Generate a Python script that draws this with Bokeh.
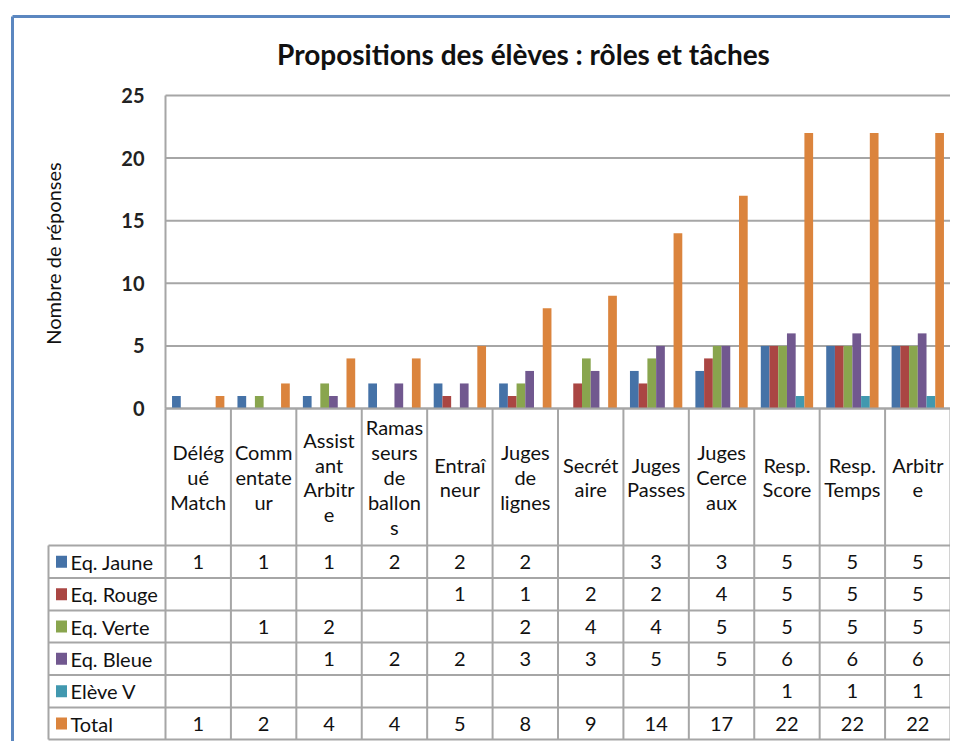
import math
from bokeh.plotting import figure
from bokeh.models import Range1d, LinearAxis, FixedTicker, Label, ColumnDataSource
from bokeh.core.properties import value
from bokeh.transform import dodge
from bokeh.embed import file_html
from bokeh.resources import INLINE

# ---------------- data ----------------
categories = ["Délég\nué\nMatch", "Comm\nentate\nur", "Assist\nant\nArbitr\ne",
              "Ramas\nseurs\nde\nballon\ns", "Entraî\nneur", "Juges\nde\nlignes",
              "Secrét\naire", "Juges\nPasses", "Juges\nCerce\naux",
              "Resp.\nScore", "Resp.\nTemps", "Arbitr\ne"]
series_names = ["Eq. Jaune", "Eq. Rouge", "Eq. Verte", "Eq. Bleue", "Elève V", "Total"]
eq_jaune = [1, 1, 1, 2, 2, 2, None, 3, 3, 5, 5, 5]
eq_rouge = [None, None, None, None, 1, 1, 2, 2, 4, 5, 5, 5]
eq_verte = [None, 1, 2, None, None, 2, 4, 4, 5, 5, 5, 5]
eq_bleue = [None, None, 1, 2, 2, 3, 3, 5, 5, 6, 6, 6]
eleve_v = [None, None, None, None, None, None, None, None, None, 1, 1, 1]
total = [1, 2, 4, 4, 5, 8, 9, 14, 17, 22, 22, 22]
series_values = [eq_jaune, eq_rouge, eq_verte, eq_bleue, eleve_v, total]
y_ticks = [0, 5, 10, 15, 20, 25]
title_text = "Propositions des élèves : rôles et tâches"
y_label = "Nombre de réponses"

# ---------------- style / layout ----------------
colors = ["#4572A7", "#AA4643", "#89A54E", "#71588F", "#4198AF", "#DB843D"]
GRID = "#a6a6a6"
FONT = "Lato"
W, H = 950, 741
N = len(categories)
PL, PR = 165, 950          # plot-area left/right (px)
P0, P25 = 408, 95          # px of y=0 and y=25
XU = (PR - PL) / N
YU = (P0 - P25) / 25.0


def X(px):
    return (px - PL) / XU


def Y(py):
    return (P0 - py) / YU


p = figure(width=W, height=H, output_backend="svg", toolbar_location=None,
           x_range=Range1d(X(0), X(W)), y_range=Range1d(Y(H), Y(0)),
           x_axis_type=None, y_axis_type=None, min_border=0)
p.outline_line_color = None
p.xgrid.visible = False
p.ygrid.visible = False
p.background_fill_color = "white"
p.border_fill_color = "white"

# outer blue frame
p.segment(x0=[X(12), X(12)], y0=[Y(16), Y(16)], x1=[X(12), X(W)], y1=[Y(H), Y(16)],
          line_color="#5b87c0", line_width=3)

# horizontal gridlines
p.segment(x0=[0] * len(y_ticks), x1=[N] * len(y_ticks), y0=y_ticks, y1=y_ticks,
          line_color=GRID, line_width=2)

# y axis
ax = LinearAxis(fixed_location=0, bounds=(0, 25), ticker=FixedTicker(ticks=y_ticks))
ax.axis_line_color = GRID
ax.axis_line_width = 2
ax.major_tick_line_color = None
ax.minor_tick_line_color = None
ax.major_label_text_font = FONT
ax.major_label_text_font_size = "20px"
ax.major_label_text_font_style = "bold"
ax.major_label_text_color = "#222222"
ax.major_label_standoff = 15
p.add_layout(ax, "left")

# bars
xs = [i + 0.5 for i in range(N)]
BW = 1 / 7.5
data = {"x": xs}
for k, vals in enumerate(series_values):
    data[f"s{k}"] = [v if v is not None else float("nan") for v in vals]
src = ColumnDataSource(data)
for k in range(len(series_values)):
    p.vbar(x=dodge("x", (k - 2.5) * BW), top=f"s{k}", bottom=0, width=BW,
           source=src, fill_color=colors[k], line_color=None)

# table lines
row_px = [545, 577.5, 610, 642, 674.5, 707, 739]
LEG_L = 48
hx0 = [0] + [X(LEG_L)] * len(row_px)
hx1 = [N] * (len(row_px) + 1)
hy = [Y(P0)] + [Y(r) for r in row_px]
p.segment(x0=hx0, x1=hx1, y0=hy, y1=hy, line_color=GRID, line_width=2)
vx = list(range(N + 1)) + [X(LEG_L)]
vy0 = [Y(P0)] * (N + 1) + [Y(row_px[0])]
vy1 = [Y(row_px[-1])] * (N + 2)
p.segment(x0=vx, x1=vx, y0=vy0, y1=vy1, line_color=GRID, line_width=2)

# category labels
p.text(x=xs, y=[Y((P0 + row_px[0]) / 2)] * N, text=categories,
       text_font=value(FONT), text_font_size="20px", text_align="center",
       text_baseline="middle", text_line_height=1.04, text_color="#111111")

# table values
tx, ty, tt = [], [], []
row_centers = [Y((row_px[j] + row_px[j + 1]) / 2) for j in range(len(series_values))]
for k, vals in enumerate(series_values):
    for i, v in enumerate(vals):
        if v is not None:
            tx.append(i + 0.5)
            ty.append(row_centers[k])
            tt.append(str(v))
p.text(x=tx, y=ty, text=tt, text_font=value(FONT), text_font_size="20px",
       text_align="center", text_baseline="middle", text_color="#111111")

# legend keys + names
p.rect(x=[X(61)] * len(series_names), y=row_centers, width=11, height=12,
       width_units="screen", height_units="screen", fill_color=colors, line_color=None)
p.text(x=[X(70)] * len(series_names), y=row_centers, text=series_names,
       text_font=value(FONT), text_font_size="20px", text_align="left",
       text_baseline="middle", text_color="#111111")

# title and axis label
p.add_layout(Label(x=X(523), y=Y(53), text=title_text, text_font=FONT,
                   text_font_size="28px", text_font_style="bold",
                   text_align="center", text_baseline="middle", text_color="#111111"))
p.add_layout(Label(x=X(52), y=Y(253), text=y_label, text_font=FONT,
                   text_font_size="20px", angle=math.pi / 2,
                   text_align="center", text_baseline="middle", text_color="#111111"))

open("out.html", "w").write(file_html(p, INLINE))
